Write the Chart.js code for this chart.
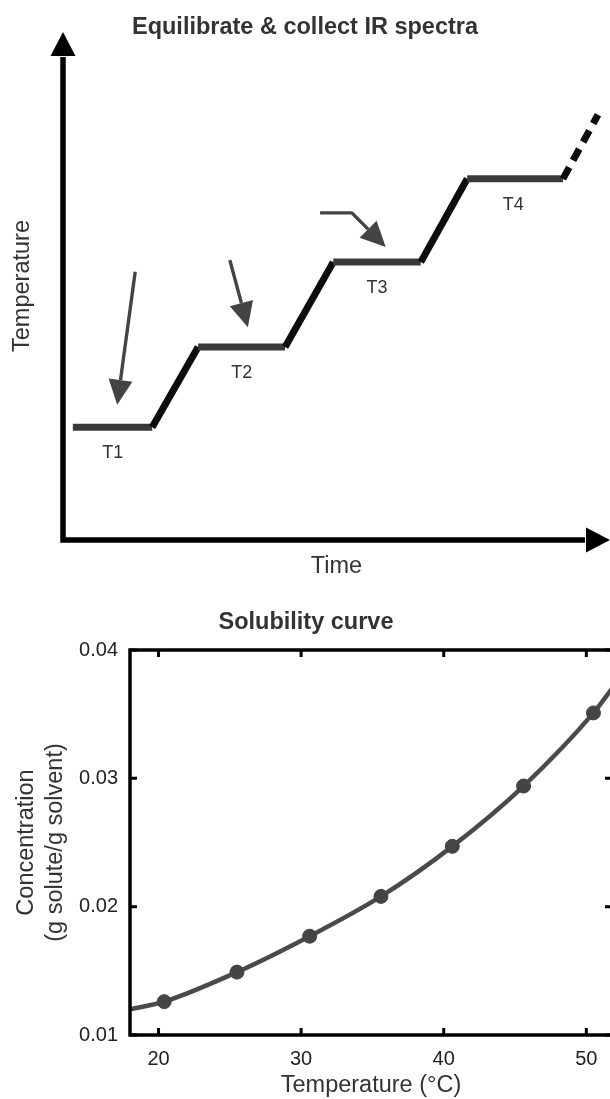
<!DOCTYPE html>
<html><head><meta charset="utf-8">
<script src="https://cdn.jsdelivr.net/npm/chart.js@4.4.1/dist/chart.umd.min.js"></script>
<style>
html,body{margin:0;padding:0;background:#fff;overflow:hidden;width:610px;height:1099px;position:relative;}
#c1{position:absolute;left:0;top:0;}
#c2{position:absolute;left:0;top:600px;}
</style></head><body>
<canvas id="c1" width="630" height="600"></canvas>
<canvas id="c2" width="630" height="499"></canvas>
<script>
const FONT = '"Liberation Sans", Arial, Helvetica, sans-serif';

// ---------- Top schematic (arbitrary units 0..100) ----------
const timeRange = [0, 100];
const tempRange = [0, 100];
const stepTime = [1.8, 16.3, 24.7, 40.6, 49.4, 65.4, 73.9, 91.4, 97.8];
const stepTemp = [22.2, 22.2, 38.0, 38.0, 54.7, 54.7, 71.1, 71.1, 83.7];
const levelLabels = ['T1', 'T2', 'T3', 'T4'];
const levelLabelTime = [9.1, 32.7, 57.4, 82.3];
const levelLabelTemp = [17.1, 32.9, 49.6, 65.9];
const pointerTime = [[13.2, 9.9], [30.5, 33.8], [47.0, 52.8, 59.0]];
const pointerTemp = [[52.8, 26.6], [55.1, 41.9], [64.4, 64.4, 57.7]];

// ---------- Bottom solubility curve ----------
const solTemp = [20.4, 25.5, 30.6, 35.6, 40.6, 45.6, 50.5];
const solConc = [0.0126, 0.0149, 0.0177, 0.0208, 0.0247, 0.0294, 0.0351];
const fitTemp = [18, 20.4, 25.5, 30.6, 35.6, 40.6, 45.6, 50.5, 51.8];
const fitConc = [0.0120, 0.0126, 0.0149, 0.0177, 0.0208, 0.0247, 0.0294, 0.0351, 0.0370];
const xTicks = [20, 30, 40, 50];
const yTicks = [0.01, 0.02, 0.03, 0.04];

function drawHead(ctx, x1, y1, x2, y2, len, hw) {
  const a = Math.atan2(y2 - y1, x2 - x1);
  const bx = x2 - len * Math.cos(a), by = y2 - len * Math.sin(a);
  ctx.beginPath();
  ctx.moveTo(x2, y2);
  ctx.lineTo(bx + hw * Math.sin(a), by - hw * Math.cos(a));
  ctx.lineTo(bx - hw * Math.sin(a), by + hw * Math.cos(a));
  ctx.closePath();
  ctx.fill();
  return [bx, by];
}

const schematicPlugin = {
  id: 'schematic',
  afterDraw(chart) {
    const {ctx, scales: {x, y}} = chart;
    ctx.save();
    // axes with arrowheads
    const x0 = x.getPixelForValue(timeRange[0]), y0 = y.getPixelForValue(tempRange[0]);
    const xt = x.getPixelForValue(timeRange[1]), yt = y.getPixelForValue(tempRange[1]);
    ctx.fillStyle = '#000'; ctx.strokeStyle = '#000'; ctx.lineWidth = 5.5; ctx.lineCap = 'butt';
    const vb = drawHead(ctx, x0, y0, x0, yt, 24, 12.5);
    const hb = drawHead(ctx, x0, y0, xt, y0, 24, 12.5);
    ctx.beginPath();
    ctx.moveTo(x0, y0 + 2.75); ctx.lineTo(vb[0], vb[1] + 1);
    ctx.moveTo(x0 - 2.75, y0); ctx.lineTo(hb[0] - 1, hb[1]);
    ctx.stroke();
    // pointer arrows
    ctx.strokeStyle = '#444'; ctx.fillStyle = '#444'; ctx.lineWidth = 3.4; ctx.lineJoin = 'round';
    pointerTime.forEach((ts, i) => {
      const pts = ts.map((t, j) => [x.getPixelForValue(t), y.getPixelForValue(pointerTemp[i][j])]);
      const n = pts.length;
      const b = drawHead(ctx, pts[n - 2][0], pts[n - 2][1], pts[n - 1][0], pts[n - 1][1], 25, 12);
      ctx.beginPath();
      ctx.moveTo(pts[0][0], pts[0][1]);
      for (let k = 1; k < n - 1; k++) ctx.lineTo(pts[k][0], pts[k][1]);
      ctx.lineTo(b[0], b[1]);
      ctx.stroke();
    });
    // level labels
    ctx.fillStyle = '#333';
    ctx.font = '18px ' + FONT;
    ctx.textAlign = 'center'; ctx.textBaseline = 'middle';
    levelLabels.forEach((lab, i) => {
      ctx.fillText(lab, x.getPixelForValue(levelLabelTime[i]), y.getPixelForValue(levelLabelTemp[i]));
    });
    ctx.restore();
  }
};

const lastSeg = stepTime.length - 1;
new Chart(document.getElementById('c1'), {
  type: 'scatter',
  data: {
    datasets: [{
      data: stepTime.map((t, i) => ({x: t, y: stepTemp[i]})),
      showLine: true,
      borderColor: '#111',
      borderWidth: 7,
      pointRadius: 0,
      segment: {
        borderColor: c => c.p0.parsed.y === c.p1.parsed.y ? '#3a3a3a' : '#0d0d0d',
        borderDash: c => c.p1DataIndex === lastSeg ? [13, 8] : undefined
      }
    }]
  },
  options: {
    responsive: false, animation: false,
    layout: {padding: {left: 0, right: 20, top: 0, bottom: 0}},
    plugins: {
      legend: {display: false}, tooltip: {enabled: false},
      title: {display: true, text: 'Equilibrate & collect IR spectra', color: '#333',
        font: {family: FONT, size: 23.5, weight: 'bold', lineHeight: 1.2},
        padding: {top: 13.9, bottom: -10.1}}
    },
    scales: {
      x: {type: 'linear', min: timeRange[0], max: timeRange[1],
        grid: {display: false, drawTicks: false}, border: {display: false}, ticks: {display: false},
        title: {display: true, text: 'Time', color: '#333', font: {family: FONT, size: 23.5, lineHeight: 1.2}, padding: {top: 0, bottom: 18.9}},
        afterFit: s => { s.height = 60; }},
      y: {type: 'linear', min: tempRange[0], max: tempRange[1],
        grid: {display: false, drawTicks: false}, border: {display: false}, ticks: {display: false},
        title: {display: true, text: 'Temperature', color: '#333', font: {family: FONT, size: 23.5, lineHeight: 1.2}, padding: {top: 8.9, bottom: 0}},
        afterFit: s => { s.width = 63; }}
    }
  },
  plugins: [schematicPlugin]
});

const framePlugin = {
  id: 'frame',
  afterDraw(chart) {
    const {ctx, chartArea: {left, right, top, bottom}, scales: {x, y}} = chart;
    ctx.save();
    ctx.strokeStyle = '#000';
    ctx.lineWidth = 3.5;
    ctx.strokeRect(left, top, right - left, bottom - top);
    ctx.lineWidth = 3;
    ctx.beginPath();
    x.ticks.forEach(t => {
      const p = x.getPixelForValue(t.value);
      ctx.moveTo(p, bottom); ctx.lineTo(p, bottom - 7);
      ctx.moveTo(p, top); ctx.lineTo(p, top + 7);
    });
    y.ticks.forEach(t => {
      const p = y.getPixelForValue(t.value);
      ctx.moveTo(left, p); ctx.lineTo(left + 7, p);
      ctx.moveTo(right, p); ctx.lineTo(right - 7, p);
    });
    ctx.stroke();
    ctx.restore();
  }
};

new Chart(document.getElementById('c2'), {
  type: 'scatter',
  data: {
    datasets: [
      {
        data: solTemp.map((t, i) => ({x: t, y: solConc[i]})),
        pointRadius: 7, pointBackgroundColor: '#444', pointBorderColor: '#444', showLine: false
      },
      {
        data: fitTemp.map((t, i) => ({x: t, y: fitConc[i]})),
        showLine: true, borderColor: '#4a4a4a', borderWidth: 4.5, pointRadius: 0,
        cubicInterpolationMode: 'monotone'
      }
    ]
  },
  options: {
    responsive: false, animation: false,
    layout: {padding: {left: 0, right: 18, top: 0, bottom: 0}},
    plugins: {
      legend: {display: false}, tooltip: {enabled: false},
      title: {display: true, text: 'Solubility curve', color: '#333',
        font: {family: FONT, size: 23.5, weight: 'bold', lineHeight: 1.2},
        padding: {top: 8.9, bottom: 12.9}}
    },
    scales: {
      x: {type: 'linear', min: 18, max: 51.8,
        afterBuildTicks: s => { s.ticks = xTicks.map(v => ({value: v})); },
        grid: {display: false, drawTicks: false}, border: {display: false},
        ticks: {color: '#222', font: {family: FONT, size: 20}, padding: 12, maxRotation: 0, callback: v => String(v)},
        title: {display: true, text: 'Temperature (°C)', color: '#333', font: {family: FONT, size: 23.5, lineHeight: 1.2}, padding: {top: 0, bottom: -1}},
        afterFit: s => { s.height = 64; }},
      y: {type: 'linear', min: 0.01, max: 0.04,
        afterBuildTicks: s => { s.ticks = yTicks.map(v => ({value: v})); },
        grid: {display: false, drawTicks: false}, border: {display: false},
        ticks: {color: '#222', font: {family: FONT, size: 20}, padding: 12, callback: v => v.toFixed(2)},
        title: {display: true, text: ['Concentration', '(g solute/g solvent)'], color: '#333',
          font: {family: FONT, size: 23.5, lineHeight: 1.24}, padding: {top: 11.5, bottom: 0}},
        afterFit: s => { s.width = 130; }}
    }
  },
  plugins: [framePlugin]
});
</script>
</body></html>
